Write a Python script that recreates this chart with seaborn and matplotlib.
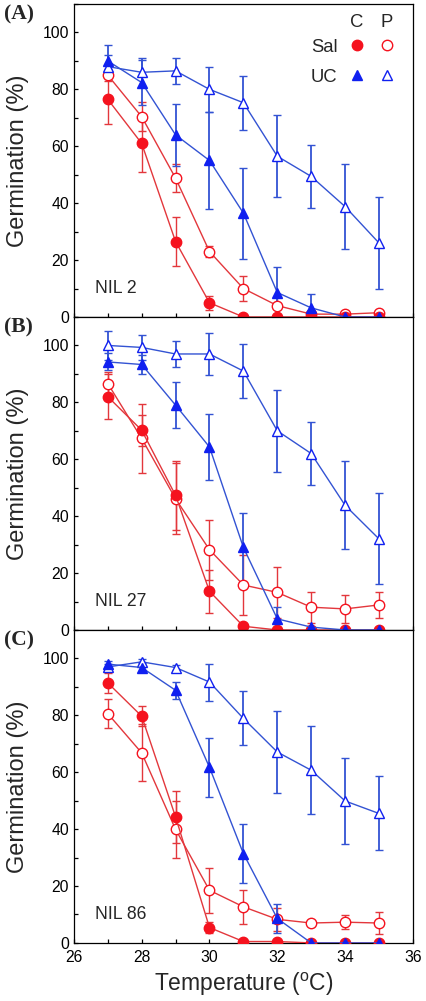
import matplotlib
matplotlib.use('Agg')
import matplotlib.pyplot as plt
from matplotlib.lines import Line2D
from matplotlib.ticker import MultipleLocator
import pandas as pd
import seaborn as sns

# Temperatures (x axis)
temps = [27, 28, 29, 30, 31, 32, 33, 34, 35]

# Panel A - NIL 2
a_sal_c = [76.5, 61, 26.5, 5, 0, 0, 0, 0, 0]
a_sal_c_err = [8.5, 10, 8.5, 2.5, 0, 0, 0, 0, 0]
a_sal_p = [85, 70.4, 48.8, 23, 10, 4, 1, 1, 1.5]
a_sal_p_err = [2, 5, 5, 2, 4.5, 3, 0.5, 0.5, 0.5]
a_uc_c = [90, 82.4, 64, 55, 36.5, 8.6, 3.2, 0, 0]
a_uc_c_err = [5.5, 8, 11, 17, 16, 9, 5, 0, 0]
a_uc_p = [88, 86, 86.5, 80, 75.3, 56.5, 49.4, 38.8, 26]
a_uc_p_err = [4, 5, 4.5, 8, 9.5, 14.5, 11, 15, 16]

# Panel B - NIL 27
b_sal_c = [82, 70.2, 47.3, 13.6, 1.3, 0, 0, 0, 0]
b_sal_c_err = [8, 5.5, 12, 7.5, 0, 0, 0, 0, 0]
b_sal_p = [86.6, 67.3, 46.1, 28.2, 15.8, 13.2, 8, 7.4, 8.8]
b_sal_p_err = [4, 12, 12.5, 10.5, 10.5, 9, 5.5, 5, 4.5]
b_uc_c = [94.2, 93.3, 79, 64.3, 29, 3.9, 1, 0, 0]
b_uc_c_err = [3, 3.5, 8, 11.5, 12, 4, 0, 0, 0]
b_uc_p = [100, 99.3, 97, 97, 91, 70, 62, 43.8, 32]
b_uc_p_err = [5, 4.5, 4.5, 7.5, 9.5, 14.5, 11, 15.5, 16]

# Panel C - NIL 86
c_sal_c = [91.4, 79.7, 44.3, 5.4, 0.5, 0.5, 0, 0, 0]
c_sal_c_err = [3.5, 3.5, 9, 2, 0, 0, 0, 0, 0]
c_sal_p = [80.6, 66.8, 39.9, 18.5, 12.7, 8.3, 7, 7.3, 7]
c_sal_p_err = [5, 10, 10, 8, 6, 4, 1, 2.5, 4]
c_uc_c = [98, 96.8, 88.8, 61.7, 31.4, 8.6, 0, 0, 0]
c_uc_c_err = [1, 1.5, 3, 10.5, 10.5, 5, 0, 0, 0]
c_uc_p = [97, 98.8, 96.8, 91.7, 78.9, 67.1, 60.7, 49.9, 45.5]
c_uc_p_err = [1, 1, 1, 6.5, 9.5, 14.5, 15.5, 15, 13]

panel_tags = ['(A)', '(B)', '(C)']
panel_names = ['NIL 2', 'NIL 27', 'NIL 86']
series_names = ['Sal P', 'Sal C', 'UC P', 'UC C']

panels = [
    {'Sal C': (a_sal_c, a_sal_c_err), 'Sal P': (a_sal_p, a_sal_p_err),
     'UC C': (a_uc_c, a_uc_c_err), 'UC P': (a_uc_p, a_uc_p_err)},
    {'Sal C': (b_sal_c, b_sal_c_err), 'Sal P': (b_sal_p, b_sal_p_err),
     'UC C': (b_uc_c, b_uc_c_err), 'UC P': (b_uc_p, b_uc_p_err)},
    {'Sal C': (c_sal_c, c_sal_c_err), 'Sal P': (c_sal_p, c_sal_p_err),
     'UC C': (c_uc_c, c_uc_c_err), 'UC P': (c_uc_p, c_uc_p_err)},
]

RED_M = '#f5121e'
RED_L = '#e3373c'
BLUE_M = '#1020f0'
BLUE_L = '#3353d3'

styles = {
    'Sal C': dict(line=RED_L, marker='o', mfc=RED_M, mec=RED_M, ms=7.5),
    'Sal P': dict(line=RED_L, marker='o', mfc='white', mec=RED_M, ms=7.5),
    'UC C': dict(line=BLUE_L, marker='^', mfc=BLUE_M, mec=BLUE_M, ms=7.5),
    'UC P': dict(line=BLUE_L, marker='^', mfc='white', mec=BLUE_M, ms=7.5),
}

sns.set_style('ticks')
plt.rcParams['font.family'] = ['Liberation Sans', 'DejaVu Sans']
plt.rcParams['axes.linewidth'] = 0.9

fig, axes = plt.subplots(3, 1, figsize=(4.27, 10.01), dpi=100, sharex=True,
                         gridspec_kw=dict(hspace=0))
fig.subplots_adjust(left=0.173, right=0.967, top=0.996, bottom=0.058)

for i, ax in enumerate(axes):
    data = panels[i]
    for name in series_names:
        vals, errs = data[name]
        st = styles[name]
        df = pd.DataFrame({'temp': temps, 'germ': vals})
        ax.errorbar(temps, vals, yerr=errs, fmt='none', ecolor=st['line'],
                    elinewidth=1.3 if 'UC' in name else 1.0,
                    capsize=2.8, capthick=1.0, zorder=2)
        sns.lineplot(data=df, x='temp', y='germ', ax=ax, color=st['line'],
                     linewidth=1.0, marker=st['marker'],
                     markersize=st['ms'], markerfacecolor=st['mfc'],
                     markeredgecolor=st['mec'], markeredgewidth=1.0,
                     errorbar=None, zorder=3)
    ax.set_xlim(26, 36)
    ax.set_ylim(0, 110)
    ax.xaxis.set_major_locator(MultipleLocator(2))
    ax.xaxis.set_minor_locator(MultipleLocator(1))
    ax.yaxis.set_major_locator(MultipleLocator(20))
    ax.yaxis.set_minor_locator(MultipleLocator(10))
    ax.tick_params(which='both', direction='in', length=3.2, width=0.9,
                   top=False, right=False, labelsize=11.3, colors='black')
    ax.tick_params(axis='y', pad=3.5)
    ax.tick_params(axis='x', pad=5)
    for s in ax.spines.values():
        s.set_visible(True)
        s.set_color('black')
    ax.set_ylabel('Germination (%)', fontsize=17, labelpad=10)
    ax.set_xlabel('')
    ax.text(0.062, 0.09, panel_names[i], transform=ax.transAxes,
            fontsize=12.7, ha='left', va='center')
    ax.text(-0.205, 0.965, panel_tags[i], transform=ax.transAxes,
            fontsize=15.5, fontweight='bold', ha='left', va='center',
            family=['Liberation Serif', 'DejaVu Serif'])

axes[-1].set_xlabel('Temperature ($^\\mathregular{o}$C)', fontsize=16.5, labelpad=4)

# legend in panel A: rows Sal / UC, columns C / P
ax = axes[0]
handles = []
for name in ['Sal C', 'UC C', 'Sal P', 'UC P']:
    st = styles[name]
    handles.append(Line2D([], [], ls='none', marker=st['marker'], markersize=st['ms'],
                          markerfacecolor=st['mfc'], markeredgecolor=st['mec'],
                          markeredgewidth=1.0))
leg = ax.legend(handles=handles, labels=['Sal', 'UC', '', ''], ncol=2,
                markerfirst=False, frameon=False, loc='upper right',
                bbox_to_anchor=(0.99, 0.93), fontsize=13.3, handlelength=1.0,
                handletextpad=0.55, columnspacing=0.1, labelspacing=0.7,
                borderpad=0.2)
ax.text(0.835, 0.942, 'C', transform=ax.transAxes, fontsize=13.3,
        ha='center', va='center')
ax.text(0.923, 0.942, 'P', transform=ax.transAxes, fontsize=13.3,
        ha='center', va='center')

fig.savefig('out.png', dpi=100)
